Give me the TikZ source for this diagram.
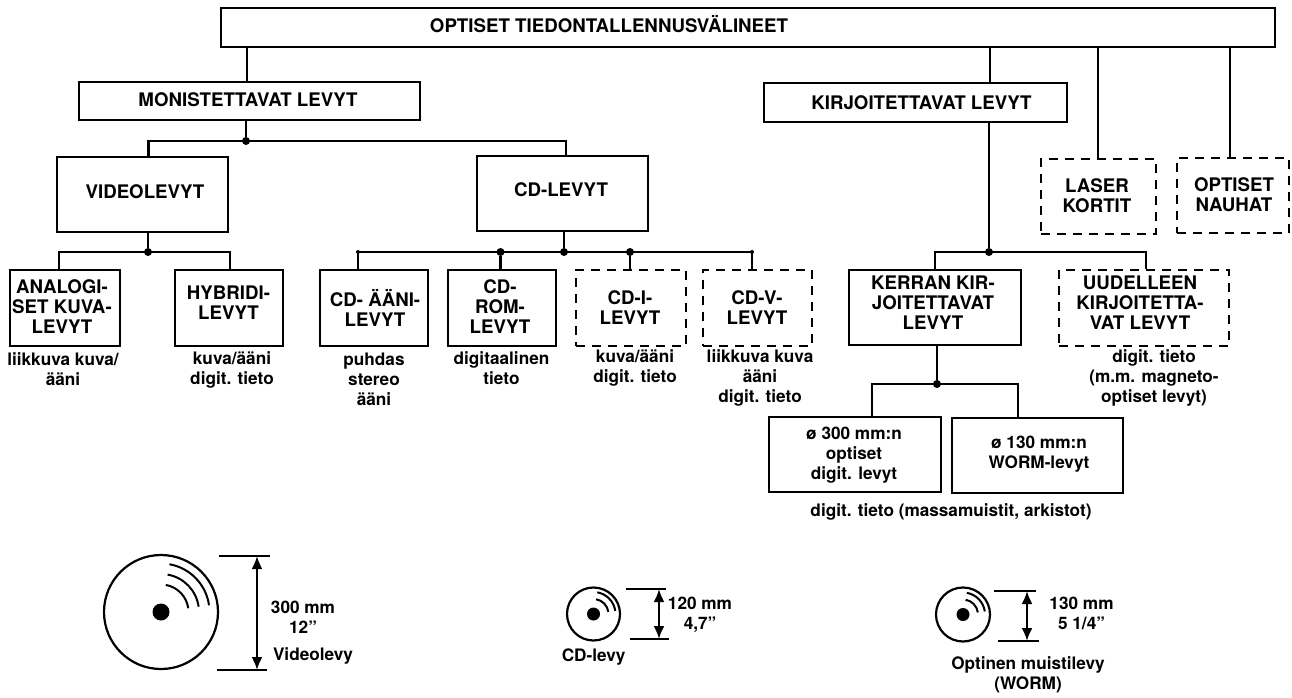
\documentclass[tikz,border=0pt]{standalone}
\usepackage{fontspec}
\setmainfont{TeX Gyre Heros}[BoldFont=* Bold]
\usetikzlibrary{arrows.meta}
\tikzset{
  ln/.style={line width=2.2pt,draw=black,line join=miter},
  boxn/.style={rectangle,draw=black,line width=2.2pt,inner sep=0pt},
  dashbox/.style={boxn,dash pattern=on 9pt off 7pt},
  lab/.style={inner sep=0pt,align=center,font=\fontsize{18.7}{20}\selectfont\bfseries},
  capt/.style={inner sep=0pt,align=center,font=\fontsize{17.2}{20}\selectfont\bfseries},
  dotm/.style={circle,fill=black,inner sep=0pt,minimum size=8pt},
  tinydot/.style={circle,fill=black,inner sep=0pt,minimum size=4pt},
  dimar/.style={line width=2.2pt,{Latex[length=13pt,width=11pt]}-{Latex[length=13pt,width=11pt]}},
}
% \bx{name}{style}{x1}{y1}{x2}{y2}
\newcommand{\bx}[6]{\node[#2,minimum width=#5pt-#3pt,minimum height=#6pt-#4pt] (#1) at ({(#3+#5)/2},{(#4+#6)/2}) {};}
% \disc{name}{cx}{cy}{r}{dotr}{radii}
\newcommand{\disc}[6]{%
  \node[circle,draw=black,line width=2.2pt,inner sep=0pt,minimum size=#4pt*2] (#1) at (#2,#3) {};
  \node[circle,fill=black,inner sep=0pt,minimum size=#5pt*2] (#1d) at (#2,#3) {};
  \foreach \r in {#6}{
    \draw[line width=2pt] ([shift={(80:\r pt)}]#1d.center) arc[start angle=80,end angle=8,radius=\r pt];
  }}
\begin{document}
\begin{tikzpicture}[x=1pt,y=-1pt]
\useasboundingbox (0,0) rectangle (1292,697);
% boxes
\bx{top}{boxn}{221}{8}{1275}{47}
\bx{mon}{boxn}{79}{82}{420}{120}
\bx{kir}{boxn}{764}{83}{1067}{122}
\bx{video}{boxn}{57}{157}{228}{232}
\bx{cd}{boxn}{477}{156}{648}{231}
\bx{laser}{dashbox}{1041}{159}{1156}{234}
\bx{nauhat}{dashbox}{1177}{158}{1289}{233}
\bx{analog}{boxn}{10}{270}{120}{346}
\bx{hybrid}{boxn}{175}{270}{283}{346}
\bx{aani}{boxn}{320}{270}{428}{346}
\bx{rom}{boxn}{448}{270}{556}{346}
\bx{cdi}{dashbox}{576}{270}{686}{346}
\bx{cdv}{dashbox}{703}{270}{812}{346}
\bx{kerran}{boxn}{849}{270}{1021}{345}
\bx{uud}{dashbox}{1059}{270}{1229}{346}
\bx{d300}{boxn}{769}{417}{941}{492}
\bx{d130}{boxn}{952}{418}{1123}{493}
% box texts
\node[lab] (ttop) at (609,24) {OPTISET TIEDONTALLENNUSVÄLINEET};
\node[lab] (tmon) at (248,100) {MONISTETTAVAT LEVYT};
\node[lab] (tkir) at (921.5,103) {KIRJOITETTAVAT LEVYT};
\node[lab] (tvideo) at (145,192) {VIDEOLEVYT};
\node[lab] (tcd) at (561,190) {CD-LEVYT};
\node[lab] (tlaser) at (1097,195.5) {LASER\\KORTIT};
\node[lab] (tnauhat) at (1234,195) {OPTISET\\NAUHAT};
\node[lab] (tanalog) at (62,307) {ANALOGI-\\SET KUVA-\\LEVYT};
\node[lab] (thybrid) at (228.5,302.5) {HYBRIDI-\\LEVYT};
\node[lab] (taani) at (375,308) {CD- ÄÄNI-\\LEVYT};
\node[lab] (trom) at (500,307) {CD-\\ROM-\\LEVYT};
\node[lab] (tcdi) at (630,308) {CD-I-\\LEVYT};
\node[lab] (tcdv) at (757,308) {CD-V-\\LEVYT};
\node[lab] (tkerran) at (933,303) {KERRAN KIR-\\JOITETTAVAT\\LEVYT};
\node[lab] (tuud) at (1140,303) {UUDELLEEN\\KIRJOITETTA-\\VAT LEVYT};
\node[capt] (t300) at (854,455) {ø 300 mm:n\\optiset\\digit. levyt};
\node[capt] (t130) at (1039,454) {ø 130 mm:n\\WORM-levyt};
% captions
\node[capt] (c1) at (63,369.5) {liikkuva kuva/\\ääni};
\node[capt] (c2) at (232,369.5) {kuva/ääni\\digit. tieto};
\node[capt] (c3) at (374,379) {puhdas\\stereo\\ääni};
\node[capt] (c4) at (501.5,368) {digitaalinen\\tieto};
\node[capt] (c5) at (635,368) {kuva/ääni\\digit. tieto};
\node[capt] (c6) at (760,378) {liikkuva kuva\\ääni\\digit. tieto};
\node[capt] (c7) at (1154,378) {digit. tieto\\(m.m. magneto-\\optiset levyt)};
\node[capt] (c8) at (951,512) {digit. tieto (massamuistit, arkistot)};
% junctions and bus ends
\coordinate (xmon) at (247,0);
\coordinate (xkir) at (990,0);
\coordinate (xlaser) at (1098,0);
\coordinate (xnauhat) at (1230,0);
\draw[ln] (top.south -| xmon) -- (mon.north -| xmon);
\draw[ln] (top.south -| xkir) -- (kir.north -| xkir);
\draw[ln] (top.south -| xlaser) -- (laser.north -| xlaser);
\draw[ln] (top.south -| xnauhat) -- (nauhat.north -| xnauhat);
% monistettavat
\node[dotm] (j1) at (246,141) {};
\coordinate (b1l) at (148.5,141);
\coordinate (b1r) at (566,141);
\draw[ln] (mon.south -| j1) -- (j1);
\draw[ln] (video.north -| b1l) -- (b1l) -- (b1r) -- (cd.north -| b1r);
% video
\node[dotm] (j2) at (148,252) {};
\coordinate (b2l) at (59,252);
\coordinate (b2r) at (230,252);
\draw[ln] (video.south -| j2) -- (j2);
\draw[ln] (analog.north -| b2l) -- (b2l) -- (b2r) -- (hybrid.north -| b2r);
% cd
\node[dotm] (j3) at (564,252) {};
\node[dotm] (j4) at (500.5,252) {};
\node[dotm] (j5) at (630,252) {};
\node[tinydot] (b3l) at (358,252) {};
\node[tinydot] (b3r) at (752,252) {};
\draw[ln] (cd.south -| j3) -- (j3);
\draw[ln] (aani.north -| b3l) -- (b3l.center) -- (b3r.center) -- (cdv.north -| b3r);
\draw[ln] (j4) -- (rom.north -| j4);
\draw[ln] (j5) -- (cdi.north -| j5);
% kirjoitettavat
\node[dotm] (j6) at (989,252) {};
\coordinate (b6l) at (935,252);
\coordinate (b6r) at (1146,252);
\draw[ln] (kir.south -| j6) -- (j6);
\draw[ln] (kerran.north -| b6l) -- (b6l) -- (b6r) -- (uud.north -| b6r);
% kerran
\node[dotm] (j7) at (937,384) {};
\coordinate (b7l) at (872,384);
\coordinate (b7r) at (1018,384);
\draw[ln] (kerran.south -| j7) -- (j7);
\draw[ln] (d300.north -| b7l) -- (b7l) -- (b7r) -- (d130.north -| b7r);
% discs
\disc{da}{161}{612}{57}{8.5}{27.5,38,48.5}
\disc{db}{593.5}{614}{26.5}{6.5}{15,22}
\disc{dc}{963}{614.5}{27}{6.5}{15,22}
% dimensions
\coordinate (a1) at (219,556); \coordinate (a2) at (270,556);
\coordinate (a3) at (217,670); \coordinate (a4) at (267,670);
\coordinate (ax) at (257,0);
\draw[ln] (a1) -- (a2); \draw[ln] (a3) -- (a4);
\draw[dimar] (a2 -| ax) -- (a4 -| ax);
\coordinate (b1) at (626,589); \coordinate (b2) at (666,589);
\coordinate (b3) at (630,639); \coordinate (b4) at (669,639);
\coordinate (bx) at (659,0);
\draw[ln] (b1) -- (b2); \draw[ln] (b3) -- (b4);
\draw[dimar] (b2 -| bx) -- (b4 -| bx);
\coordinate (c1a) at (993.5,591); \coordinate (c2a) at (1035.6,591);
\coordinate (c3a) at (998,641); \coordinate (c4a) at (1039,641);
\coordinate (cx) at (1027,0);
\draw[ln] (c1a) -- (c2a); \draw[ln] (c3a) -- (c4a);
\draw[dimar] (c2a -| cx) -- (c4a -| cx);
% disc labels
\node[capt] (l1) at (303,617.5) {300 mm\\12"};
\node[capt] (l2) at (313,656) {Videolevy};
\node[capt] (l3) at (700,614.5) {120 mm\\4,7"};
\node[capt] (l4) at (593.6,657) {CD-levy};
\node[capt] (l5) at (1081.5,613) {130 mm\\5 1/4"};
\node[capt] (l6) at (1028,675) {Optinen muistilevy\\(WORM)};
\end{tikzpicture}
\end{document}
